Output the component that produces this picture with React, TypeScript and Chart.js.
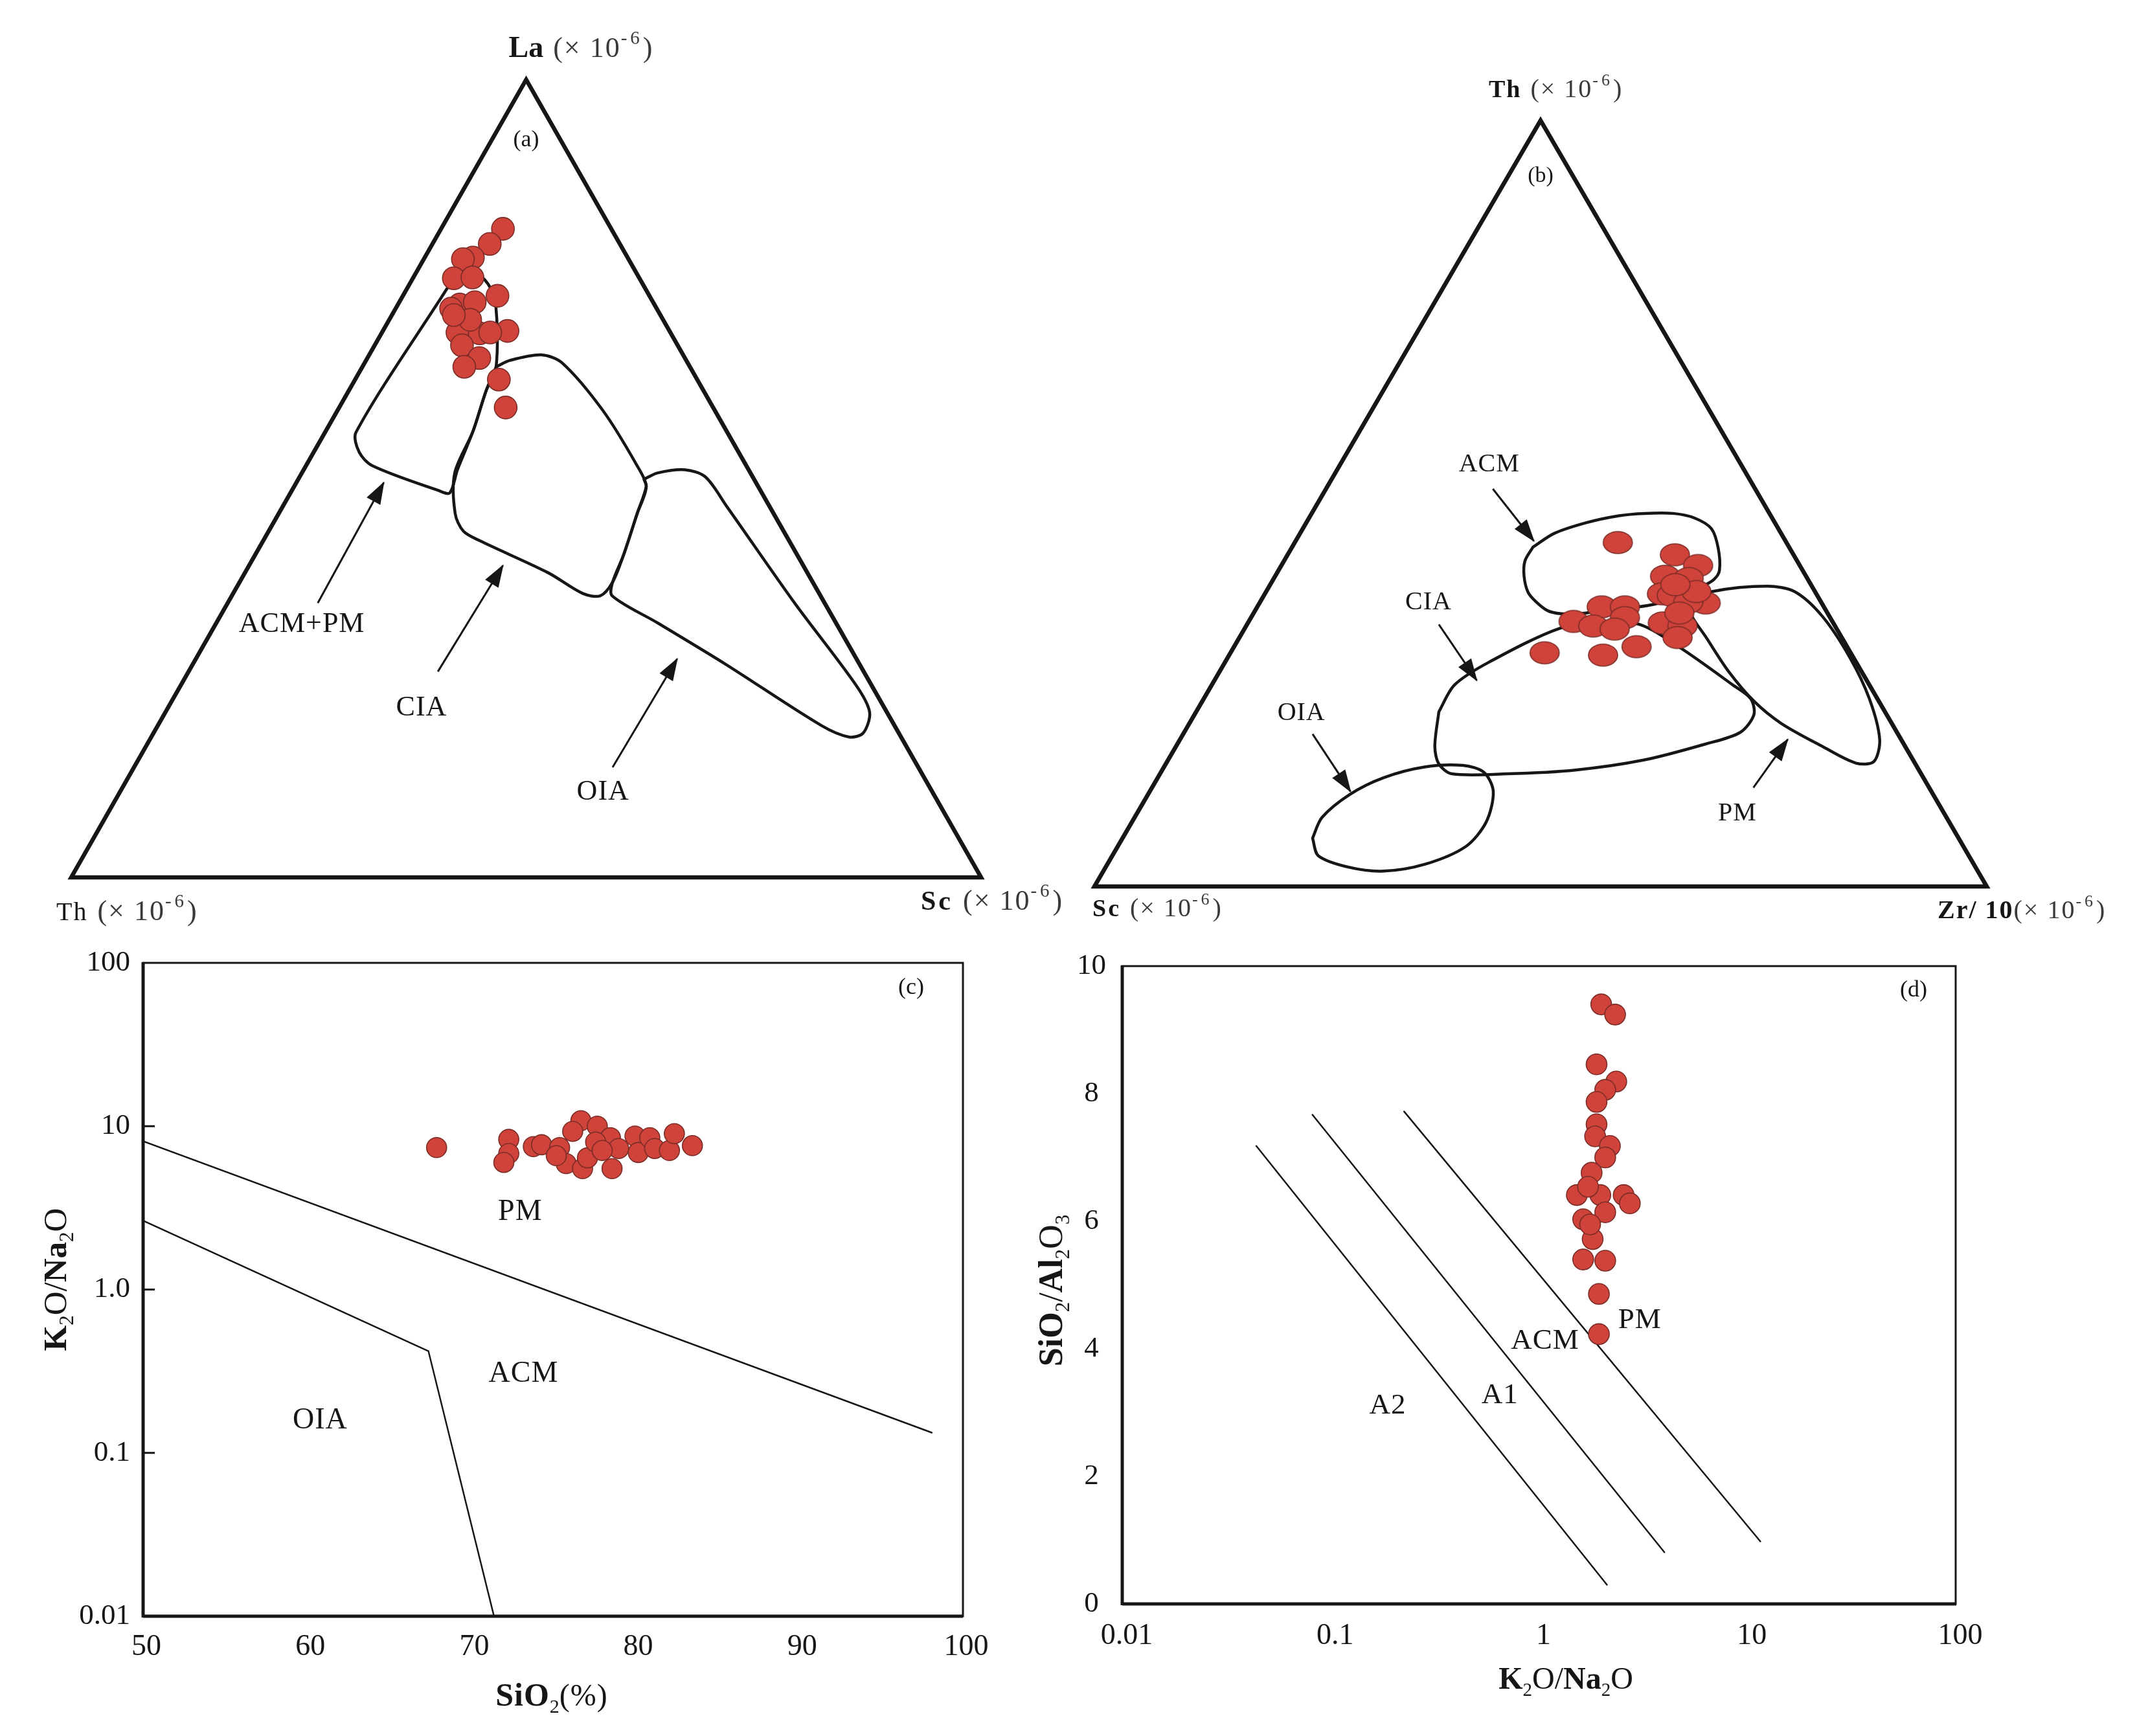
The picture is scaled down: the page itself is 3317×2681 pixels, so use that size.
import React, { useEffect, useRef } from "react";
import { Chart, registerables } from "chart.js";

Chart.register(...registerables);

const SERIF = '"Liberation Serif", "Times New Roman", serif';
const INK = "#161616";
const GREY = "#3a3a3a";
const DOT_FILL = "#cf433b";
const DOT_EDGE = "#7a2c27";

/* ===== (a) La–Th–Sc ternary, composition in % (Th = 100 − La − Sc) ===== */
const aLa = [81.3, 79.4, 77.7, 77.5, 75.1, 75.2, 72.9, 71.8, 71.3, 72.1, 68.3, 68.2, 68.5, 66.7, 65.1, 64.0, 62.4, 58.9, 69.9, 68.3, 70.5];
const aSc = [6.8, 6.3, 5.3, 4.3, 4.5, 6.5, 10.4, 6.8, 6.1, 8.3, 8.3, 10.8, 13.7, 9.6, 12.3, 11.2, 15.8, 18.3, 8.9, 11.9, 6.8];
// field outlines as [La, Sc]
const aFieldACMPM = [[73.8, 4.4], [75.1, 4.6], [76.0, 6.1], [74.4, 8.6], [71.9, 10.7], [64.0, 14.7], [61.0, 15.1], [55.9, 16.2], [51.1, 16.9], [48.2, 17.5], [48.5, 16.1], [51.6, 7.3], [53.3, 5.0], [55.8, 3.4], [73.8, 4.4]];
const aFieldCIA = [[64.0, 14.7], [64.8, 15.8], [65.5, 18.9], [64.5, 21.7], [58.5, 29.2], [51.6, 36.4], [49.0, 38.7], [45.6, 39.4], [40.4, 40.5], [37.0, 41.0], [35.3, 40.5], [35.6, 38.4], [38.2, 33.3], [42.2, 23.8], [43.4, 21.4], [45.6, 19.4], [50.7, 16.8], [55.9, 16.2], [61.0, 15.1], [64.0, 14.7]];
const aFieldOIA = [[49.9, 38.0], [50.7, 39.1], [51.1, 41.9], [50.2, 44.6], [46.5, 48.8], [34.4, 62.3], [24.1, 74.2], [20.7, 77.4], [18.1, 78.0], [17.6, 76.7], [19.0, 73.0], [26.7, 58.6], [31.9, 48.5], [35.3, 41.8], [37.0, 41.0], [40.4, 40.5], [45.6, 39.4], [49.0, 38.7], [49.9, 38.0]];
const aFieldNames = ["ACM+PM", "CIA", "OIA"];
const aLabelAt = [[31.7, 9.5], [21.2, 27.9], [10.7, 53.1]];
const aArrows = [[[34.4, 9.9], [49.5, 9.6]], [[25.8, 27.4], [39.1, 27.9]], [[13.8, 52.6], [27.4, 52.9]]];

/* ===== (b) Th–Sc–Zr/10 ternary, composition in % (Sc = 100 − Th − Zr/10) ===== */
const bTh = [44.9, 43.3, 41.9, 40.5, 40.2, 38.2, 38.0, 37.0, 37.1, 38.5, 36.5, 36.5, 35.1, 34.6, 34.0, 33.6, 34.4, 34.0, 32.5, 30.5, 30.2, 31.3, 39.4, 35.7];
const bZr = [36.2, 43.4, 46.7, 43.7, 46.5, 44.5, 45.7, 50.0, 48.0, 48.2, 38.6, 41.2, 41.9, 36.4, 38.9, 41.5, 46.5, 48.9, 49.1, 35.2, 41.9, 45.1, 45.4, 47.7];
// field outlines as [Th, Zr/10]
const bFieldACM = [[44.3, 27.0], [46.1, 28.5], [47.5, 31.4], [48.4, 34.6], [48.7, 37.3], [48.7, 40.5], [48.1, 43.2], [46.7, 45.8], [44.2, 47.8], [41.3, 49.4], [40.1, 49.4], [39.2, 48.6], [38.0, 47.1], [36.9, 44.5], [36.5, 42.7], [36.1, 39.3], [35.6, 36.6], [35.6, 34.5], [36.0, 32.8], [37.1, 31.0], [38.4, 29.4], [40.5, 27.9], [42.5, 27.0], [44.3, 27.0]];
const bFieldCIA = [[22.8, 27.2], [26.3, 27.2], [29.3, 29.6], [33.7, 35.3], [34.4, 39.8], [34.2, 44.0], [31.2, 50.0], [26.3, 58.4], [24.5, 61.3], [22.4, 62.7], [20.1, 62.3], [18.6, 59.2], [16.5, 53.3], [15.2, 46.3], [14.7, 38.9], [14.7, 32.7], [16.0, 30.6], [18.3, 29.0], [22.8, 27.2]];
const bFieldPM = [[37.1, 48.0], [38.5, 50.0], [39.2, 55.8], [38.5, 59.2], [35.3, 63.9], [29.9, 69.7], [24.5, 74.6], [19.2, 78.4], [16.3, 79.2], [16.1, 77.3], [18.3, 72.4], [21.3, 66.3], [24.2, 61.8], [28.1, 57.0], [32.6, 52.2], [35.3, 49.3], [37.1, 48.0]];
const bFieldOIA = [[6.3, 21.3], [4.0, 23.1], [2.5, 27.3], [2.0, 31.4], [2.9, 35.6], [5.2, 39.0], [8.4, 39.7], [12.4, 38.5], [14.9, 36.2], [15.8, 33.4], [15.6, 29.2], [14.2, 25.3], [12.0, 22.6], [9.0, 21.0], [6.3, 21.3]];
const bFieldNames = ["ACM", "CIA", "OIA", "PM"];
const bLabelAt = [[55.1, 16.7], [37.1, 18.9], [22.6, 11.9], [9.5, 67.3]];
const bArrows = [[[51.9, 18.7], [45.1, 26.7]], [[34.2, 21.5], [26.9, 29.4]], [[19.9, 14.5], [12.4, 22.5]], [[12.9, 67.4], [19.2, 68.1]]];

/* ===== (c) SiO2 (%) vs K2O/Na2O ===== */
const cSiO2 = [67.9, 72.3, 72.3, 72.0, 73.8, 74.3, 75.4, 76.7, 77.7, 76.2, 75.8, 76.8, 77.1, 78.6, 78.5, 79.0, 80.0, 80.2, 80.9, 81.2, 82.1, 82.4, 83.5, 77.6, 78.0, 75.2];
const cK2ONa2O = [7.4, 8.3, 6.8, 6.0, 7.5, 7.7, 7.4, 10.8, 10.0, 9.3, 5.9, 5.5, 6.4, 5.5, 8.5, 7.3, 8.7, 6.9, 8.5, 7.3, 7.1, 9.0, 7.6, 8.0, 7.1, 6.6];
const cLinePMACM_x = [50, 98.1];
const cLinePMACM_y = [8.1, 0.133];
const cLineOIA_x = [50, 67.4, 71.4];
const cLineOIA_y = [2.64, 0.42, 0.01];
const cXTicks = [50, 60, 70, 80, 90, 100];
const cYTicks = [0.01, 0.1, 1, 10, 100];
const cYTickLabels = ["0.01", "0.1", "1.0", "10", "100"];
const cFieldNames = ["PM", "ACM", "OIA"];
const cLabelAt = [[73.0, 2.99], [73.2, 0.304], [60.8, 0.158]];

/* ===== (d) K2O/Na2O vs SiO2/Al2O3 ===== */
const dK2ONa2O = [1.99, 2.32, 1.89, 2.35, 2.08, 1.89, 1.89, 1.86, 2.19, 2.08, 1.79, 1.52, 1.97, 2.55, 2.73, 2.08, 1.63, 1.81, 1.63, 2.08, 1.94, 1.94, 1.76, 1.72];
const dSiO2Al2O3 = [9.40, 9.24, 8.46, 8.19, 8.06, 7.87, 7.52, 7.33, 7.18, 7.00, 6.76, 6.41, 6.41, 6.41, 6.28, 6.14, 6.03, 5.72, 5.40, 5.38, 4.86, 4.23, 5.95, 6.54];
const dLineA2_x = [0.044, 2.12];
const dLineA2_y = [7.18, 0.30];
const dLineA1_x = [0.0818, 4.0];
const dLineA1_y = [7.67, 0.81];
const dLinePM_x = [0.2254, 11.55];
const dLinePM_y = [7.72, 0.98];
const dXTicks = [0.01, 0.1, 1, 10, 100];
const dXTickLabels = ["0.01", "0.1", "1", "10", "100"];
const dYTicks = [0, 2, 4, 6, 8, 10];
const dFieldNames = ["A2", "A1", "ACM", "PM"];
const dLabelAt = [[0.188, 3.10], [0.650, 3.27], [1.07, 4.12], [3.05, 4.44]];

/* ===== layout (page pixels) ===== */
const BOX_A = { x: 0, y: 0, w: 1660, h: 1440 };
const BOX_B = { x: 1660, y: 0, w: 1657, h: 1440 };
const BOX_C = { x: 0, y: 1440, w: 1600, h: 1241 };
const BOX_D = { x: 1600, y: 1440, w: 1717, h: 1241 };

type Seg = { t: string; size: number; bold?: boolean; dy?: number; color?: string; ls?: number };

function setFont(ctx: any, s: Seg) {
  ctx.font = `${s.bold ? "bold " : ""}${s.size}px ${SERIF}`;
  ctx.letterSpacing = `${s.ls ?? 0}px`;
}

function drawRich(ctx: any, segs: Seg[], x: number, y: number, align = "left", baseline = "alphabetic") {
  ctx.save();
  ctx.textAlign = "left";
  ctx.textBaseline = baseline;
  const widths = segs.map((s) => {
    setFont(ctx, s);
    return ctx.measureText(s.t).width;
  });
  const total = widths.reduce((a, b) => a + b, 0);
  let cx = align === "center" ? x - total / 2 : align === "right" ? x - total : x;
  segs.forEach((s, i) => {
    setFont(ctx, s);
    ctx.fillStyle = s.color ?? INK;
    ctx.fillText(s.t, cx, y + (s.dy ?? 0));
    cx += widths[i];
  });
  ctx.restore();
}

function drawRotated(ctx: any, segs: Seg[], x: number, y: number) {
  ctx.save();
  ctx.translate(x, y);
  ctx.rotate(-Math.PI / 2);
  drawRich(ctx, segs, 0, 0, "center");
  ctx.restore();
}

const unitSegs = (size: number): Seg[] => [
  { t: " ", size, ls: 4 },
  { t: "(× 10", size, color: GREY, ls: 2 },
  { t: "-6", size: Math.round(size * 0.65), dy: -size * 0.45, color: GREY, ls: 5 },
  { t: ")", size, color: GREY },
];
const sub = (t: string, size: number): Seg => ({ t, size: Math.round(size * 0.6), dy: size * 0.22 });

const arrowHeads = {
  id: "arrowHeads",
  afterDatasetsDraw(chart: any) {
    const ctx = chart.ctx;
    chart.data.datasets.forEach((ds: any, i: number) => {
      if (!ds.arrowHead) return;
      const pts = chart.getDatasetMeta(i).data;
      const a = pts[pts.length - 2];
      const b = pts[pts.length - 1];
      const ang = Math.atan2(b.y - a.y, b.x - a.x);
      ctx.save();
      ctx.translate(b.x, b.y);
      ctx.rotate(ang);
      ctx.beginPath();
      ctx.moveTo(2, 0);
      ctx.lineTo(-ds.arrowHead.len, -ds.arrowHead.half);
      ctx.lineTo(-ds.arrowHead.len, ds.arrowHead.half);
      ctx.closePath();
      ctx.fillStyle = INK;
      ctx.fill();
      ctx.restore();
    });
  },
};

function frameRange(cx: number, cy: number, W: number, H: number, bw: number, bh: number) {
  return { x: [-cx / W, (bw - cx) / W], y: [(cy - bh) / H, cy / H] };
}

function ellipseSprite(rx: number, ry: number) {
  const c = document.createElement("canvas");
  c.width = Math.ceil(2 * rx + 4);
  c.height = Math.ceil(2 * ry + 4);
  const g = c.getContext("2d")!;
  g.beginPath();
  g.ellipse(c.width / 2, c.height / 2, rx, ry, 0, 0, Math.PI * 2);
  g.fillStyle = DOT_FILL;
  g.fill();
  g.lineWidth = 1.6;
  g.strokeStyle = DOT_EDGE;
  g.stroke();
  return c;
}

const baseOptions = (extra: any) => ({
  responsive: false,
  animation: false,
  devicePixelRatio: 1,
  events: [],
  plugins: { legend: { display: false }, tooltip: { enabled: false } },
  ...extra,
});

function lineDs(pts: any[], width: number, tension: number, extra: any = {}) {
  return {
    data: pts,
    showLine: true,
    pointRadius: 0,
    pointHoverRadius: 0,
    borderColor: INK,
    backgroundColor: INK,
    borderWidth: width,
    tension,
    fill: false,
    order: 2,
    borderJoinStyle: "round",
    borderCapStyle: "round",
    ...extra,
  };
}

/* ---------- ternary builder ---------- */
function ternary(canvas: HTMLCanvasElement, spec: any) {
  const rng = frameRange(spec.cx, spec.cy, spec.W, spec.H, canvas.width, canvas.height);
  const toXY = spec.toXY;
  const datasets: any[] = [
    {
      data: spec.points,
      showLine: false,
      pointStyle: spec.pointStyle,
      pointRadius: spec.pointRadius,
      backgroundColor: DOT_FILL,
      borderColor: DOT_EDGE,
      borderWidth: 1.6,
      order: 0,
    },
    lineDs([[100, 0], [0, 0], [0, 100], [100, 0], [0, 0]].map(toXY), 6.5, 0, { borderJoinStyle: "miter", borderCapStyle: "butt" }),
    ...spec.fields.map((f: number[][]) => lineDs(f.map(toXY), 4.5, 0.3)),
    ...spec.arrows.map((a: number[][]) => lineDs(a.map(toXY), 3, 0, { arrowHead: { len: 33, half: 12 }, borderCapStyle: "butt" })),
  ];
  const textPlugin = {
    id: "ternText",
    afterDraw(chart: any) {
      const xs = chart.scales.x;
      const ys = chart.scales.y;
      const P = (p: number[]) => {
        const q = toXY(p);
        return { x: xs.getPixelForValue(q.x), y: ys.getPixelForValue(q.y) };
      };
      spec.drawText(chart.ctx, P);
    },
  };
  return new Chart(canvas, {
    type: "scatter",
    data: { datasets },
    options: baseOptions({
      layout: { padding: 0, autoPadding: false },
      scales: {
        x: { type: "linear", display: false, min: rng.x[0], max: rng.x[1] },
        y: { type: "linear", display: false, min: rng.y[0], max: rng.y[1] },
      },
    }),
    plugins: [arrowHeads, textPlugin],
  } as any);
}

const aXY = (p: number[]) => ({ x: (p[1] + p[0] / 2) / 100, y: p[0] / 100 });
const bXY = (p: number[]) => ({ x: (p[1] + p[0] / 2) / 100, y: p[0] / 100 });

function buildA(canvas: HTMLCanvasElement) {
  return ternary(canvas, {
    cx: 110, cy: 1355, W: 1405, H: 1232,
    toXY: aXY,
    points: aLa.map((la, i) => aXY([la, aSc[i]])),
    pointStyle: "circle",
    pointRadius: 17.5,
    fields: [aFieldACMPM, aFieldCIA, aFieldOIA],
    arrows: aArrows,
    drawText(ctx: any, P: any) {
      const apex = P([100, 0]);
      const left = P([0, 0]);
      const right = P([0, 100]);
      drawRich(ctx, [{ t: "La", size: 46, bold: true }, ...unitSegs(44)], apex.x - 27, apex.y - 35);
      drawRich(ctx, [{ t: "(a)", size: 36 }], apex.x, apex.y + 103, "center");
      drawRich(ctx, [{ t: "Th", size: 40, ls: 2 }, ...unitSegs(44)], left.x - 23, left.y + 66);
      drawRich(ctx, [{ t: "Sc", size: 42, bold: true, ls: 4 }, ...unitSegs(44)], right.x - 93, right.y + 50);
      aFieldNames.forEach((n, i) => {
        const p = P(aLabelAt[i]);
        drawRich(ctx, [{ t: n, size: 44, ls: 1 }], p.x, p.y, "center", "middle");
      });
    },
  });
}

function buildB(canvas: HTMLCanvasElement) {
  return ternary(canvas, {
    cx: 30, cy: 1369, W: 1378, H: 1183,
    toXY: bXY,
    points: bTh.map((th, i) => bXY([th, bZr[i]])),
    pointStyle: ellipseSprite(22.5, 17),
    pointRadius: 20,
    fields: [bFieldACM, bFieldCIA, bFieldPM, bFieldOIA],
    arrows: bArrows,
    drawText(ctx: any, P: any) {
      const apex = P([100, 0]);
      const left = P([0, 0]);
      const right = P([0, 100]);
      drawRich(ctx, [{ t: "Th", size: 38, bold: true, ls: 2 }, ...unitSegs(40)], apex.x - 80, apex.y - 36);
      drawRich(ctx, [{ t: "(b)", size: 34 }], apex.x, apex.y + 95, "center");
      drawRich(ctx, [{ t: "Sc", size: 38, bold: true, ls: 3 }, ...unitSegs(40)], left.x - 3, left.y + 46);
      drawRich(ctx, [{ t: "Zr/ 10", size: 40, bold: true, ls: 2 }, ...unitSegs(40).slice(1)], right.x - 76, right.y + 49);
      bFieldNames.forEach((n, i) => {
        const p = P(bLabelAt[i]);
        drawRich(ctx, [{ t: n, size: 40, ls: 1 }], p.x, p.y, "center", "middle");
      });
    },
  });
}

/* ---------- cartesian builders ---------- */
const tickFont = (size: number) => ({ family: SERIF, size });

function buildC(canvas: HTMLCanvasElement) {
  const area = { left: 221, right: 1487, top: 41, bottom: 1056 };
  const boxPlugin = {
    id: "boxC",
    afterDraw(chart: any) {
      const ctx = chart.ctx;
      const { left, right, top, bottom } = chart.chartArea;
      const ys = chart.scales.y;
      const xs = chart.scales.x;
      ctx.save();
      ctx.strokeStyle = INK;
      ctx.lineWidth = 3;
      ctx.strokeRect(left, top, right - left, bottom - top);
      ctx.lineWidth = 5;
      ctx.beginPath();
      ctx.moveTo(left, top - 1);
      ctx.lineTo(left, bottom + 2);
      ctx.moveTo(left, bottom);
      ctx.lineTo(right, bottom);
      ctx.stroke();
      ctx.lineWidth = 3;
      ctx.beginPath();
      cYTicks.slice(1, -1).forEach((v) => {
        const y = ys.getPixelForValue(v);
        ctx.moveTo(left, y);
        ctx.lineTo(left + 18, y);
      });
      ctx.stroke();
      ctx.restore();
      cFieldNames.forEach((n, i) => {
        drawRich(ctx, [{ t: n, size: 46, ls: 1 }], xs.getPixelForValue(cLabelAt[i][0]), ys.getPixelForValue(cLabelAt[i][1]), "center", "middle");
      });
      drawRich(ctx, [{ t: "(c)", size: 36 }], right - 80, top + 48, "center");
      const f = 51;
      drawRotated(ctx, [{ t: "K", size: f, bold: true }, sub("2", f), { t: "O/", size: f }, { t: "Na", size: f, bold: true }, sub("2", f), { t: "O", size: f }], 102, 536);
      drawRich(ctx, [{ t: "SiO", size: 50, bold: true, ls: 1 }, sub("2", 50), { t: "(%)", size: 48, ls: 1 }], 852, 1194, "center");
    },
  };
  return new Chart(canvas, {
    type: "scatter",
    data: {
      datasets: [
        { data: cSiO2.map((x, i) => ({ x, y: cK2ONa2O[i] })), pointRadius: 15.5, backgroundColor: DOT_FILL, borderColor: DOT_EDGE, borderWidth: 1.6, order: 0 },
        lineDs(cLinePMACM_x.map((x, i) => ({ x, y: cLinePMACM_y[i] })), 2.5, 0),
        lineDs(cLineOIA_x.map((x, i) => ({ x, y: cLineOIA_y[i] })), 2.5, 0, { borderJoinStyle: "miter" }),
      ],
    },
    options: baseOptions({
      layout: { padding: { left: 0, top: area.top, right: canvas.width - area.right, bottom: 0 }, autoPadding: false },
      scales: {
        x: {
          type: "linear", min: 50, max: 100,
          afterBuildTicks: (s: any) => { s.ticks = cXTicks.map((v) => ({ value: v })); },
          afterFit: (s: any) => { s.height = canvas.height - area.bottom; },
          grid: { display: false, drawTicks: false }, border: { display: false },
          ticks: { color: INK, font: tickFont(46), padding: 20, labelOffset: 5, maxRotation: 0, autoSkip: false },
        },
        y: {
          type: "logarithmic", min: 0.01, max: 100,
          afterBuildTicks: (s: any) => { s.ticks = cYTicks.map((v) => ({ value: v })); },
          afterFit: (s: any) => { s.width = area.left; },
          grid: { display: false, drawTicks: false }, border: { display: false },
          ticks: { color: INK, font: tickFont(45), padding: 20, autoSkip: false, callback: (v: number) => cYTickLabels[cYTicks.indexOf(v)] },
        },
      },
    }),
    plugins: [boxPlugin],
  } as any);
}

function buildD(canvas: HTMLCanvasElement) {
  const area = { left: 133, right: 1420, top: 42, bottom: 1037 };
  const boxPlugin = {
    id: "boxD",
    afterDraw(chart: any) {
      const ctx = chart.ctx;
      const { left, right, top, bottom } = chart.chartArea;
      const ys = chart.scales.y;
      const xs = chart.scales.x;
      ctx.save();
      ctx.strokeStyle = INK;
      ctx.lineWidth = 3;
      ctx.strokeRect(left, top, right - left, bottom - top);
      ctx.lineWidth = 5;
      ctx.beginPath();
      ctx.moveTo(left, top - 1);
      ctx.lineTo(left, bottom + 2);
      ctx.moveTo(left, bottom);
      ctx.lineTo(right + 1, bottom);
      ctx.stroke();
      ctx.restore();
      dFieldNames.forEach((n, i) => {
        drawRich(ctx, [{ t: n, size: 45, ls: 1 }], xs.getPixelForValue(dLabelAt[i][0]), ys.getPixelForValue(dLabelAt[i][1]), "center", "middle");
      });
      drawRich(ctx, [{ t: "(d)", size: 36 }], right - 65, top + 47, "center");
      const f = 52;
      drawRotated(ctx, [{ t: "SiO", size: f, bold: true }, sub("2", f), { t: "/", size: f }, { t: "Al", size: f, bold: true }, sub("2", f), { t: "O", size: f }, sub("3", f)], 40, 553);
      const g = 48;
      drawRich(ctx, [{ t: "K", size: g, bold: true }, sub("2", g), { t: "O/", size: g }, { t: "Na", size: g, bold: true }, sub("2", g), { t: "O", size: g }], 818, 1168, "center");
    },
  };
  return new Chart(canvas, {
    type: "scatter",
    data: {
      datasets: [
        { data: dK2ONa2O.map((x, i) => ({ x, y: dSiO2Al2O3[i] })), pointRadius: 16, backgroundColor: DOT_FILL, borderColor: DOT_EDGE, borderWidth: 1.6, order: 0 },
        lineDs(dLineA2_x.map((x, i) => ({ x, y: dLineA2_y[i] })), 2.5, 0),
        lineDs(dLineA1_x.map((x, i) => ({ x, y: dLineA1_y[i] })), 2.5, 0),
        lineDs(dLinePM_x.map((x, i) => ({ x, y: dLinePM_y[i] })), 2.5, 0),
      ],
    },
    options: baseOptions({
      layout: { padding: { left: 0, top: area.top, right: canvas.width - area.right, bottom: 0 }, autoPadding: false },
      scales: {
        x: {
          type: "logarithmic", min: 0.01, max: 100,
          afterBuildTicks: (s: any) => { s.ticks = dXTicks.map((v) => ({ value: v })); },
          afterFit: (s: any) => { s.height = canvas.height - area.bottom; },
          grid: { display: false, drawTicks: false }, border: { display: false },
          ticks: { color: INK, font: tickFont(46), padding: 22, labelOffset: 7, maxRotation: 0, autoSkip: false, callback: (v: number) => dXTickLabels[dXTicks.indexOf(v)] },
        },
        y: {
          type: "linear", min: 0, max: 10,
          afterBuildTicks: (s: any) => { s.ticks = dYTicks.map((v) => ({ value: v })); },
          afterFit: (s: any) => { s.width = area.left; },
          grid: { display: false, drawTicks: false }, border: { display: false },
          ticks: { color: INK, font: tickFont(45), padding: 25, crossAlign: "center", autoSkip: false },
        },
      },
    }),
    plugins: [boxPlugin],
  } as any);
}

function Panel({ box, build }: { box: { x: number; y: number; w: number; h: number }; build: (c: HTMLCanvasElement) => Chart }) {
  const ref = useRef<HTMLCanvasElement>(null);
  useEffect(() => {
    const chart = build(ref.current!);
    return () => chart.destroy();
  }, []);
  return (
    <canvas
      ref={ref}
      width={box.w}
      height={box.h}
      style={{ position: "absolute", left: box.x, top: box.y, width: box.w, height: box.h }}
    />
  );
}

export default function App() {
  return (
    <div style={{ position: "absolute", left: 0, top: 0, width: 3317, height: 2681, background: "#ffffff", overflow: "hidden" }}>
      <Panel box={BOX_A} build={buildA} />
      <Panel box={BOX_B} build={buildB} />
      <Panel box={BOX_C} build={buildC} />
      <Panel box={BOX_D} build={buildD} />
    </div>
  );
}
